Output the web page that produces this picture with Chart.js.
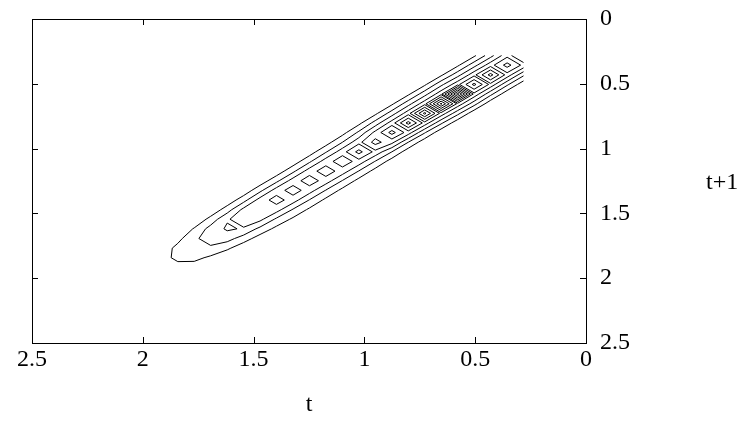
<!DOCTYPE html>
<html>
<head>
<meta charset="utf-8">
<script src="https://cdn.jsdelivr.net/npm/chart.js@4/dist/chart.umd.min.js"></script>
<style>
  html, body { margin: 0; padding: 0; background: #fff; }
  #wrap { width: 751px; height: 440px; }
</style>
</head>
<body>
<div id="wrap"><canvas id="c" width="751" height="440"></canvas></div>
<script>
// Axis ticks (same for t and t+1)
const tickValues = [0, 0.5, 1, 1.5, 2, 2.5];
const tickLabels = ['0', '0.5', '1', '1.5', '2', '2.5'];

// Sampling grid, shared by both axes
const gridT = [0.282, 0.356, 0.431, 0.505, 0.579, 0.654, 0.728, 0.802, 0.876, 0.951,
               1.025, 1.099, 1.174, 1.248, 1.322, 1.397, 1.471, 1.545, 1.619, 1.694,
               1.768, 1.842, 1.917, 1.991, 2.065, 2.139, 2.214];

// Density on the diagonal t = t+1 (node i,i)
const ridge = [5.8, 6.4, 7.4, 7.3, 10.4, 9.2, 8.3, 7.4, 6.4, 5.4,
               5.35, 4.6, 4.55, 4.55, 4.5, 4.45, 3.8, 3.5, 3.15, 2.5,
               1.6, 1.2, 0.5, 0.1, 0, 0, 0];
// One step off the diagonal, between ridge nodes m and m+1
const shoulder1 = [4.7, 4.6, 4.7, 4.7, 4.7, 4.65, 4.6, 4.5, 4.3, 3.7,
                   3.6, 3.55, 3.55, 3.5, 3.5, 3.45, 3.3, 2.9, 2.4, 1.8,
                   1.3, 0.7, 0.2, 0, 0, 0, 0];
// Two steps off the diagonal, across from ridge node i (above / below the ridge)
const shoulder2Up = [2.6, 2.6, 2.6, 2.6, 2.7, 2.6, 2.6, 2.5, 2.4, 2.2,
                     2.0, 1.9, 1.8, 1.75, 1.7, 1.7, 1.6, 1.5, 1.35, 1.1,
                     0.7, 0.4, 0.1, 0, 0, 0, 0];
const shoulder2Dn = [2.2, 2.2, 2.2, 2.3, 2.4, 2.3, 2.2, 2.1, 2.0, 2.0,
                     1.95, 1.95, 1.95, 1.95, 1.95, 1.9, 1.8, 1.7, 1.5, 1.2,
                     0.8, 0.5, 0.2, 0, 0, 0, 0];
// Three steps off the diagonal, between ridge nodes m and m+1 (above / below)
const shoulder3Up = [0.8, 0.8, 0.8, 0.8, 0.8, 0.8, 0.8, 0.75, 0.7, 0.6,
                     0.5, 0.45, 0.4, 0.35, 0.35, 0.3, 0.3, 0.2, 0.1, 0,
                     0, 0, 0, 0, 0, 0, 0];
const shoulder3Dn = [0.3, 0.3, 0.3, 0.3, 0.3, 0.3, 0.3, 0.35, 0.4, 0.5,
                     0.6, 0.65, 0.7, 0.75, 0.8, 0.8, 0.7, 0.5, 0.3, 0.1,
                     0, 0, 0, 0, 0, 0, 0];

// Contour levels
const levels = [1, 2, 3, 4, 5, 6, 7, 8, 9, 10];

const N = gridT.length;
function nodeValue(i, j) {
  const d = i - j, s = i + j, up = d > 0;
  let v;
  switch (Math.abs(d)) {
    case 0: v = ridge[i]; break;
    case 1: v = shoulder1[(s - 1) / 2]; break;
    case 2: v = (up ? shoulder2Up : shoulder2Dn)[s / 2]; break;
    case 3: v = (up ? shoulder3Up : shoulder3Dn)[(s - 1) / 2]; break;
  }
  return v === undefined ? 0 : v;
}
const F = [];
for (let i = 0; i < N; i++) {
  F.push([]);
  for (let j = 0; j < N; j++) F[i].push(nodeValue(i, j));
}

// Marching squares; ambiguous cells keep the high corners apart
function contourLevel(L) {
  const pts = new Map();
  const segs = [];
  function edge(key, i0, j0, i1, j1) {
    if (!pts.has(key)) {
      const v0 = F[i0][j0], v1 = F[i1][j1];
      const f = (L - v0) / (v1 - v0);
      pts.set(key, {
        x: gridT[i0] + f * (gridT[i1] - gridT[i0]),
        y: gridT[j0] + f * (gridT[j1] - gridT[j0])
      });
    }
    return key;
  }
  for (let i = 0; i < N - 1; i++) {
    for (let j = 0; j < N - 1; j++) {
      const c = [F[i][j], F[i + 1][j], F[i + 1][j + 1], F[i][j + 1]];
      const b = c.map(v => v > L);
      const E = [
        () => edge('h' + i + ',' + j, i, j, i + 1, j),
        () => edge('v' + (i + 1) + ',' + j, i + 1, j, i + 1, j + 1),
        () => edge('h' + i + ',' + (j + 1), i, j + 1, i + 1, j + 1),
        () => edge('v' + i + ',' + j, i, j, i, j + 1)
      ];
      const cross = [b[0] !== b[1], b[1] !== b[2], b[2] !== b[3], b[3] !== b[0]];
      const ks = [0, 1, 2, 3].filter(k => cross[k]);
      if (ks.length === 2) {
        segs.push([E[ks[0]](), E[ks[1]]()]);
      } else if (ks.length === 4) {
        if (b[0]) { segs.push([E[0](), E[3]()]); segs.push([E[1](), E[2]()]); }
        else { segs.push([E[0](), E[1]()]); segs.push([E[2](), E[3]()]); }
      }
    }
  }
  // join segments into polylines
  const adj = new Map();
  segs.forEach((s, idx) => s.forEach(k => {
    if (!adj.has(k)) adj.set(k, []);
    adj.get(k).push(idx);
  }));
  const used = new Array(segs.length).fill(false);
  const data = [];
  for (let s0 = 0; s0 < segs.length; s0++) {
    if (used[s0]) continue;
    used[s0] = true;
    const line = [segs[s0][0], segs[s0][1]];
    for (;;) {
      const tail = line[line.length - 1];
      const nx = adj.get(tail).find(q => !used[q]);
      if (nx === undefined) break;
      used[nx] = true;
      const s = segs[nx];
      line.push(s[0] === tail ? s[1] : s[0]);
    }
    for (;;) {
      const head = line[0];
      const nx = adj.get(head).find(q => !used[q]);
      if (nx === undefined) break;
      used[nx] = true;
      const s = segs[nx];
      line.unshift(s[0] === head ? s[1] : s[0]);
    }
    line.forEach(k => data.push(pts.get(k)));
    data.push({ x: NaN, y: NaN });
  }
  return data;
}

const datasets = levels.map(L => ({
  label: 'level ' + L,
  data: contourLevel(L),
  showLine: true,
  spanGaps: false,
  borderColor: '#000',
  borderWidth: 1,
  pointRadius: 0,
  pointHoverRadius: 0,
  tension: 0
}));

const SERIF = '"Liberation Serif", "DejaVu Serif", serif';

// Box, inward tick marks on all four sides, and axis titles
const framePlugin = {
  id: 'frame',
  afterDatasetsDraw(chart) {
    const { ctx, chartArea: a, scales } = chart;
    ctx.save();
    ctx.strokeStyle = '#000';
    ctx.lineWidth = 1;
    ctx.strokeRect(a.left + 0.5, a.top + 0.5, a.right - a.left, a.bottom - a.top);
    ctx.beginPath();
    tickValues.forEach(v => {
      const px = Math.round(scales.x.getPixelForValue(v)) + 0.5;
      ctx.moveTo(px, a.bottom); ctx.lineTo(px, a.bottom - 6);
      ctx.moveTo(px, a.top); ctx.lineTo(px, a.top + 6);
      const py = Math.round(scales.y.getPixelForValue(v)) + 0.5;
      ctx.moveTo(a.left, py); ctx.lineTo(a.left + 6, py);
      ctx.moveTo(a.right, py); ctx.lineTo(a.right - 6, py);
    });
    ctx.stroke();
    ctx.fillStyle = '#000';
    ctx.font = '24px ' + SERIF;
    ctx.textBaseline = 'middle';
    ctx.textAlign = 'center';
    ctx.fillText('t', (a.left + a.right) / 2, 405);
    ctx.textAlign = 'left';
    ctx.fillText('t+1', 706, 183);
    ctx.restore();
  }
};

const tickFont = { family: SERIF, size: 24 };
const labelFor = v => {
  const k = tickValues.findIndex(t => Math.abs(t - v) < 1e-9);
  return k < 0 ? '' : tickLabels[k];
};

new Chart(document.getElementById('c'), {
  type: 'scatter',
  data: { datasets },
  options: {
    responsive: false,
    animation: false,
    devicePixelRatio: 1,
    layout: { padding: { left: 32, top: 19, right: 0, bottom: 0 } },
    plugins: { legend: { display: false }, tooltip: { enabled: false } },
    events: [],
    scales: {
      x: {
        type: 'linear', min: 0, max: 2.5, reverse: true, position: 'bottom',
        grid: { display: false, drawTicks: false },
        border: { display: false },
        afterBuildTicks: s => { s.ticks = tickValues.map(v => ({ value: v })); },
        afterFit: s => { s.height = 97; s.paddingLeft = 0; s.paddingRight = 0; },
        ticks: { font: tickFont, color: '#000', padding: 2, maxRotation: 0, autoSkip: false, callback: labelFor }
      },
      y: {
        type: 'linear', min: 0, max: 2.5, reverse: true, position: 'right',
        grid: { display: false, drawTicks: false },
        border: { display: false },
        afterBuildTicks: s => { s.ticks = tickValues.map(v => ({ value: v })); },
        afterFit: s => { s.width = 165; s.paddingTop = 0; s.paddingBottom = 0; },
        ticks: { font: tickFont, color: '#000', padding: 14, autoSkip: false, callback: labelFor }
      }
    }
  },
  plugins: [framePlugin]
});
</script>
</body>
</html>
